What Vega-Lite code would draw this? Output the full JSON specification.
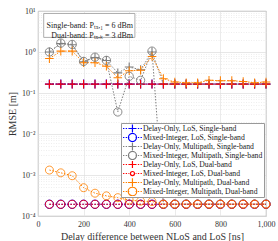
{
  "$schema": "https://vega.github.io/schema/vega-lite/v6.json",
  "width": 228,
  "height": 205,
  "autosize": "none",
  "padding": {"left": 38, "top": 11, "right": 12, "bottom": 25},
  "config": {
    "font": "Liberation Serif",
    "view": {"stroke": "#9a9a9a", "strokeWidth": 0.8},
    "axis": {"labelFont": "Liberation Serif", "labelFontSize": 8, "labelColor": "#333", "titleFont": "Liberation Serif", "titleFontSize": 10, "titleFontWeight": "normal", "titleColor": "#333", "domain": false, "ticks": false, "gridColor": "#e2e2e2", "gridWidth": 0.7},
    "legend": {"orient": "none", "legendX": 83, "legendY": 112, "fillColor": "white", "strokeColor": "#999", "padding": 1, "labelFont": "Liberation Serif", "labelFontSize": 7.7, "labelColor": "#222", "symbolSize": 81, "symbolOpacity": 1, "symbolStrokeWidth": 1.2, "rowPadding": 0, "labelOffset": 10, "clipHeight": 9}
  },
  "layer": [
    {
      "data": {"values": [
        {"d": 50, "Delay-Only, LoS, Single-band": 0.165, "Mixed-Integer, LoS, Single-band": 0.000193, "Delay-Only, Multipath, Single-band": 1.0, "Mixed-Integer, Multipath, Single-band": 1.0, "Delay-Only, LoS, Dual-band": 0.165, "Mixed-Integer, LoS, Dual-band": 0.000193, "Delay-Only, Multipath, Dual-band": 0.69, "Mixed-Integer, Multipath, Dual-band": 0.00132},
        {"d": 100, "Delay-Only, LoS, Single-band": 0.165, "Mixed-Integer, LoS, Single-band": 0.000193, "Delay-Only, Multipath, Single-band": 1.6, "Mixed-Integer, Multipath, Single-band": 1.65, "Delay-Only, LoS, Dual-band": 0.165, "Mixed-Integer, LoS, Dual-band": 0.000193, "Delay-Only, Multipath, Dual-band": 1.05, "Mixed-Integer, Multipath, Dual-band": 0.00113},
        {"d": 150, "Delay-Only, LoS, Single-band": 0.165, "Mixed-Integer, LoS, Single-band": 0.000193, "Delay-Only, Multipath, Single-band": 1.5, "Mixed-Integer, Multipath, Single-band": 1.53, "Delay-Only, LoS, Dual-band": 0.165, "Mixed-Integer, LoS, Dual-band": 0.000193, "Delay-Only, Multipath, Dual-band": 1.05, "Mixed-Integer, Multipath, Dual-band": 0.00096},
        {"d": 200, "Delay-Only, LoS, Single-band": 0.165, "Mixed-Integer, LoS, Single-band": 0.000193, "Delay-Only, Multipath, Single-band": 0.58, "Mixed-Integer, Multipath, Single-band": 0.59, "Delay-Only, LoS, Dual-band": 0.165, "Mixed-Integer, LoS, Dual-band": 0.000193, "Delay-Only, Multipath, Dual-band": 0.55, "Mixed-Integer, Multipath, Dual-band": 0.00049},
        {"d": 250, "Delay-Only, LoS, Single-band": 0.165, "Mixed-Integer, LoS, Single-band": 0.000193, "Delay-Only, Multipath, Single-band": 0.73, "Mixed-Integer, Multipath, Single-band": 0.75, "Delay-Only, LoS, Dual-band": 0.165, "Mixed-Integer, LoS, Dual-band": 0.000193, "Delay-Only, Multipath, Dual-band": 0.55, "Mixed-Integer, Multipath, Dual-band": 0.00036},
        {"d": 300, "Delay-Only, LoS, Single-band": 0.165, "Mixed-Integer, LoS, Single-band": 0.000193, "Delay-Only, Multipath, Single-band": 0.62, "Mixed-Integer, Multipath, Single-band": 0.625, "Delay-Only, LoS, Dual-band": 0.165, "Mixed-Integer, LoS, Dual-band": 0.000193, "Delay-Only, Multipath, Dual-band": 0.45, "Mixed-Integer, Multipath, Dual-band": 0.00031},
        {"d": 350, "Delay-Only, LoS, Single-band": 0.165, "Mixed-Integer, LoS, Single-band": 0.000193, "Delay-Only, Multipath, Single-band": 0.31, "Mixed-Integer, Multipath, Single-band": 0.0345, "Delay-Only, LoS, Dual-band": 0.165, "Mixed-Integer, LoS, Dual-band": 0.000193, "Delay-Only, Multipath, Dual-band": 0.235, "Mixed-Integer, Multipath, Dual-band": 0.00028},
        {"d": 400, "Delay-Only, LoS, Single-band": 0.165, "Mixed-Integer, LoS, Single-band": 0.000193, "Delay-Only, Multipath, Single-band": 0.43, "Mixed-Integer, Multipath, Single-band": 0.255, "Delay-Only, LoS, Dual-band": 0.165, "Mixed-Integer, LoS, Dual-band": 0.000193, "Delay-Only, Multipath, Dual-band": 0.35, "Mixed-Integer, Multipath, Dual-band": 0.000245},
        {"d": 450, "Delay-Only, LoS, Single-band": 0.165, "Mixed-Integer, LoS, Single-band": 0.000193, "Delay-Only, Multipath, Single-band": 0.37, "Mixed-Integer, Multipath, Single-band": 0.204, "Delay-Only, LoS, Dual-band": 0.165, "Mixed-Integer, LoS, Dual-band": 0.000193, "Delay-Only, Multipath, Dual-band": 0.36, "Mixed-Integer, Multipath, Dual-band": 0.00023},
        {"d": 500, "Delay-Only, LoS, Single-band": 0.165, "Mixed-Integer, LoS, Single-band": 0.000193, "Delay-Only, Multipath, Single-band": 1.0, "Mixed-Integer, Multipath, Single-band": 1.05, "Delay-Only, LoS, Dual-band": 0.165, "Mixed-Integer, LoS, Dual-band": 0.000193, "Delay-Only, Multipath, Dual-band": 0.78, "Mixed-Integer, Multipath, Dual-band": 0.000225},
        {"d": 550, "Delay-Only, LoS, Single-band": 0.165, "Mixed-Integer, LoS, Single-band": 0.000193, "Delay-Only, Multipath, Single-band": 0.165, "Mixed-Integer, Multipath, Single-band": 0.000195, "Delay-Only, LoS, Dual-band": 0.165, "Mixed-Integer, LoS, Dual-band": 0.000193, "Delay-Only, Multipath, Dual-band": 0.224, "Mixed-Integer, Multipath, Dual-band": 0.000195},
        {"d": 600, "Delay-Only, LoS, Single-band": 0.165, "Mixed-Integer, LoS, Single-band": 0.000193, "Delay-Only, Multipath, Single-band": 0.165, "Mixed-Integer, Multipath, Single-band": 0.000195, "Delay-Only, LoS, Dual-band": 0.165, "Mixed-Integer, LoS, Dual-band": 0.000193, "Delay-Only, Multipath, Dual-band": 0.185, "Mixed-Integer, Multipath, Dual-band": 0.000195},
        {"d": 650, "Delay-Only, LoS, Single-band": 0.165, "Mixed-Integer, LoS, Single-band": 0.000193, "Delay-Only, Multipath, Single-band": 0.165, "Mixed-Integer, Multipath, Single-band": 0.000195, "Delay-Only, LoS, Dual-band": 0.165, "Mixed-Integer, LoS, Dual-band": 0.000193, "Delay-Only, Multipath, Dual-band": 0.178, "Mixed-Integer, Multipath, Dual-band": 0.000195},
        {"d": 700, "Delay-Only, LoS, Single-band": 0.165, "Mixed-Integer, LoS, Single-band": 0.000193, "Delay-Only, Multipath, Single-band": 0.165, "Mixed-Integer, Multipath, Single-band": 0.000195, "Delay-Only, LoS, Dual-band": 0.165, "Mixed-Integer, LoS, Dual-band": 0.000193, "Delay-Only, Multipath, Dual-band": 0.178, "Mixed-Integer, Multipath, Dual-band": 0.000195},
        {"d": 750, "Delay-Only, LoS, Single-band": 0.165, "Mixed-Integer, LoS, Single-band": 0.000193, "Delay-Only, Multipath, Single-band": 0.165, "Mixed-Integer, Multipath, Single-band": 0.000195, "Delay-Only, LoS, Dual-band": 0.165, "Mixed-Integer, LoS, Dual-band": 0.000193, "Delay-Only, Multipath, Dual-band": 0.204, "Mixed-Integer, Multipath, Dual-band": 0.000195},
        {"d": 800, "Delay-Only, LoS, Single-band": 0.165, "Mixed-Integer, LoS, Single-band": 0.000193, "Delay-Only, Multipath, Single-band": 0.165, "Mixed-Integer, Multipath, Single-band": 0.000195, "Delay-Only, LoS, Dual-band": 0.165, "Mixed-Integer, LoS, Dual-band": 0.000193, "Delay-Only, Multipath, Dual-band": 0.2, "Mixed-Integer, Multipath, Dual-band": 0.000195},
        {"d": 850, "Delay-Only, LoS, Single-band": 0.165, "Mixed-Integer, LoS, Single-band": 0.000193, "Delay-Only, Multipath, Single-band": 0.165, "Mixed-Integer, Multipath, Single-band": 0.000195, "Delay-Only, LoS, Dual-band": 0.165, "Mixed-Integer, LoS, Dual-band": 0.000193, "Delay-Only, Multipath, Dual-band": 0.2, "Mixed-Integer, Multipath, Dual-band": 0.000195},
        {"d": 900, "Delay-Only, LoS, Single-band": 0.165, "Mixed-Integer, LoS, Single-band": 0.000193, "Delay-Only, Multipath, Single-band": 0.165, "Mixed-Integer, Multipath, Single-band": 0.000195, "Delay-Only, LoS, Dual-band": 0.165, "Mixed-Integer, LoS, Dual-band": 0.000193, "Delay-Only, Multipath, Dual-band": 0.19, "Mixed-Integer, Multipath, Dual-band": 0.000195},
        {"d": 950, "Delay-Only, LoS, Single-band": 0.165, "Mixed-Integer, LoS, Single-band": 0.000193, "Delay-Only, Multipath, Single-band": 0.165, "Mixed-Integer, Multipath, Single-band": 0.000195, "Delay-Only, LoS, Dual-band": 0.165, "Mixed-Integer, LoS, Dual-band": 0.000193, "Delay-Only, Multipath, Dual-band": 0.178, "Mixed-Integer, Multipath, Dual-band": 0.000195},
        {"d": 1000, "Delay-Only, LoS, Single-band": 0.165, "Mixed-Integer, LoS, Single-band": 0.000193, "Delay-Only, Multipath, Single-band": 0.165, "Mixed-Integer, Multipath, Single-band": 0.000195, "Delay-Only, LoS, Dual-band": 0.165, "Mixed-Integer, LoS, Dual-band": 0.000193, "Delay-Only, Multipath, Dual-band": 0.185, "Mixed-Integer, Multipath, Dual-band": 0.000195}
      ]},
      "transform": [
        {"fold": ["Delay-Only, LoS, Single-band", "Mixed-Integer, LoS, Single-band", "Delay-Only, Multipath, Single-band", "Mixed-Integer, Multipath, Single-band", "Delay-Only, LoS, Dual-band", "Mixed-Integer, LoS, Dual-band", "Delay-Only, Multipath, Dual-band", "Mixed-Integer, Multipath, Dual-band"], "as": ["s", "v"]}
      ],
      "encoding": {
        "x": {"field": "d", "type": "quantitative", "scale": {"domain": [0, 1000], "nice": false}, "axis": {"title": "Delay difference between NLoS and LoS [ns]", "values": [0, 200, 400, 600, 800, 1000], "labelPadding": 4, "titlePadding": 3, "labelFlush": false}},
        "y": {"field": "v", "type": "quantitative", "scale": {"type": "log", "domain": [0.0001, 10], "nice": false}, "axis": {"title": "RMSE [m]", "titlePadding": 4, "labelPadding": 3, "labelOverlap": false, "labelFlush": false,
          "values": [0.0001, 0.0002, 0.0003, 0.0004, 0.0005, 0.0006, 0.0007, 0.0008, 0.0009, 0.001, 0.002, 0.003, 0.004, 0.005, 0.006, 0.007, 0.008, 0.009, 0.01, 0.02, 0.03, 0.04, 0.05, 0.06, 0.07, 0.08, 0.09, 0.1, 0.2, 0.3, 0.4, 0.5, 0.6, 0.7, 0.8, 0.9, 1, 2, 3, 4, 5, 6, 7, 8, 9, 10],
          "labelExpr": "abs(log(datum.value)/LN10 - round(log(datum.value)/LN10)) < 0.001 ? '10' + ['⁻⁴','⁻³','⁻²','⁻¹','⁰','¹'][round(log(datum.value)/LN10)+4] : ''",
          "gridDash": {"condition": {"test": "abs(log(datum.value)/LN10 - round(log(datum.value)/LN10)) < 0.001", "value": []}, "value": [1, 1.5]},
          "gridColor": {"condition": {"test": "abs(log(datum.value)/LN10 - round(log(datum.value)/LN10)) < 0.001", "value": "#dddddd"}, "value": "#e6e6e6"}
        }},
        "color": {"field": "s", "type": "nominal",
          "scale": {"domain": ["Delay-Only, LoS, Single-band", "Mixed-Integer, LoS, Single-band", "Delay-Only, Multipath, Single-band", "Mixed-Integer, Multipath, Single-band", "Delay-Only, LoS, Dual-band", "Mixed-Integer, LoS, Dual-band", "Delay-Only, Multipath, Dual-band", "Mixed-Integer, Multipath, Dual-band"],
                    "range": ["#0000ff", "#0000ff", "#7f7f7f", "#7f7f7f", "#ff0000", "#ff0000", "#ff8000", "#ff8000"]},
          "legend": {"title": null}}
      },
      "layer": [
        {"mark": {"type": "line", "strokeWidth": 1, "strokeDash": [1.5, 1.5]}},
        {"transform": [{"filter": {"field": "s", "oneOf": ["Delay-Only, LoS, Single-band", "Delay-Only, Multipath, Single-band", "Delay-Only, LoS, Dual-band", "Delay-Only, Multipath, Dual-band"]}}],
          "mark": {"type": "point", "filled": false, "opacity": 1, "shape": "M-1,0H1M0,-1V1"},
          "encoding": {
            "size": {"field": "s", "type": "nominal", "legend": null,
              "scale": {"domain": ["Delay-Only, LoS, Single-band", "Delay-Only, Multipath, Single-band", "Delay-Only, LoS, Dual-band", "Delay-Only, Multipath, Dual-band"], "range": [81, 64, 56, 81]}},
            "strokeWidth": {"field": "s", "type": "nominal", "legend": null,
              "scale": {"domain": ["Delay-Only, LoS, Single-band", "Delay-Only, Multipath, Single-band", "Delay-Only, LoS, Dual-band", "Delay-Only, Multipath, Dual-band"], "range": [1.2, 0.8, 1, 1]}}
          }},
        {"transform": [{"filter": {"field": "s", "oneOf": ["Mixed-Integer, LoS, Single-band", "Mixed-Integer, Multipath, Single-band", "Mixed-Integer, LoS, Dual-band", "Mixed-Integer, Multipath, Dual-band"]}}],
          "mark": {"type": "point", "filled": false, "opacity": 1, "shape": "M1,0A1,1,0,1,1,-1,0A1,1,0,1,1,1,0Z"},
          "encoding": {
            "size": {"field": "s", "type": "nominal", "legend": null,
              "scale": {"domain": ["Mixed-Integer, LoS, Single-band", "Mixed-Integer, Multipath, Single-band", "Mixed-Integer, LoS, Dual-band", "Mixed-Integer, Multipath, Dual-band"], "range": [64, 64, 16, 72]}},
            "strokeWidth": {"field": "s", "type": "nominal", "legend": null,
              "scale": {"domain": ["Mixed-Integer, LoS, Single-band", "Mixed-Integer, Multipath, Single-band", "Mixed-Integer, LoS, Dual-band", "Mixed-Integer, Multipath, Dual-band"], "range": [1.5, 0.8, 1.5, 1.5]}}
          }},
        {"mark": {"type": "point", "filled": false, "opacity": 0},
          "encoding": {
            "shape": {"field": "s", "type": "nominal", "legend": {"title": null},
              "scale": {"domain": ["Delay-Only, LoS, Single-band", "Mixed-Integer, LoS, Single-band", "Delay-Only, Multipath, Single-band", "Mixed-Integer, Multipath, Single-band", "Delay-Only, LoS, Dual-band", "Mixed-Integer, LoS, Dual-band", "Delay-Only, Multipath, Dual-band", "Mixed-Integer, Multipath, Dual-band"],
                "range": [
                  "M-1,0H-0.7M-0.4,0H-0.1M0.2,0H0.4M1.8,0H2M2.3,0H2.6M2.9,0H3.2M0.2,0H2M1.1,-0.9V0.9",
                  "M-1,0H-0.7M-0.4,0H-0.1M0.2,0H0.4M1.8,0H2M2.3,0H2.6M2.9,0H3.2M2,0A0.9,0.9,0,1,1,0.2,0A0.9,0.9,0,1,1,2,0Z",
                  "M-1,0H-0.7M-0.4,0H-0.1M0.2,0H0.4M1.8,0H2M2.3,0H2.6M2.9,0H3.2M0.2,0H2M1.1,-0.9V0.9",
                  "M-1,0H-0.7M-0.4,0H-0.1M0.2,0H0.4M1.8,0H2M2.3,0H2.6M2.9,0H3.2M2,0A0.9,0.9,0,1,1,0.2,0A0.9,0.9,0,1,1,2,0Z",
                  "M-1,0H-0.7M-0.4,0H-0.1M0.2,0H0.4M1.8,0H2M2.3,0H2.6M2.9,0H3.2M0.3,0H1.9M1.1,-0.8V0.8",
                  "M-1,0H-0.7M-0.4,0H-0.1M0.2,0H0.4M1.8,0H2M2.3,0H2.6M2.9,0H3.2M1.55,0A0.45,0.45,0,1,1,0.65,0A0.45,0.45,0,1,1,1.55,0Z",
                  "M-1,0H-0.7M-0.4,0H-0.1M0.2,0H0.4M1.8,0H2M2.3,0H2.6M2.9,0H3.2M0.1,0H2.1M1.1,-0.95V0.95",
                  "M-1,0H-0.7M-0.4,0H-0.1M0.2,0H0.4M1.8,0H2M2.3,0H2.6M2.9,0H3.2M2.05,0A0.95,0.95,0,1,1,0.15,0A0.95,0.95,0,1,1,2.05,0Z"
                ]}}
          }}
      ]
    },
    {
      "data": {"values": [{}]},
      "mark": {"type": "rect", "fill": "white", "stroke": "#999", "strokeWidth": 0.8},
      "encoding": {"x": {"datum": 25}, "x2": {"datum": 425}, "y": {"datum": 8.7}, "y2": {"datum": 2.27}}
    },
    {
      "data": {"values": [{}]},
      "mark": {"type": "text", "align": "right", "baseline": "middle", "fontSize": 8, "font": "Liberation Serif", "color": "#222", "lineHeight": 10},
      "encoding": {"x": {"datum": 417}, "y": {"datum": 4.3}, "text": {"value": ["Single-band: Pₜₓ,₁ = 6 dBm", "Dual-band: Pₜₓ,ₖ = 3 dBm"]}}
    }
  ]
}
